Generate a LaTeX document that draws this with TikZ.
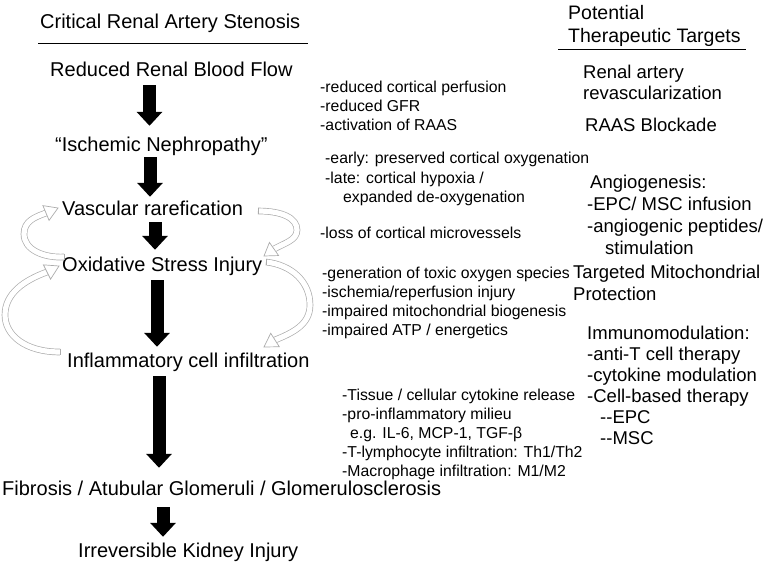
\documentclass[tikz,border=0pt]{standalone}
\usepackage{fontspec}
\setmainfont{Liberation Sans}
\usetikzlibrary{arrows.meta,calc}
\begin{document}
\begin{tikzpicture}[x=1pt,y=-1pt,
  lft/.style={anchor=base west, inner sep=0pt, text height=14.5pt, text depth=4pt, font=\fontsize{20}{24}\selectfont},
  mid/.style={anchor=north west, inner sep=0pt, align=left, font=\fontsize{15.8}{#1}\selectfont},
  mid/.default=19,
  rgt/.style={anchor=north west, inner sep=0pt, align=left, font=\fontsize{18.5}{#1}\selectfont},
  rgt/.default=21,
  blk/.style={line width=13pt, -{Triangle[width=25pt,length=14pt]}},
  band/.style={draw=gray!65, line width=0.7pt, double=white, double distance=5.2pt},
  headst/.style={draw=gray!65, line width=0.7pt, fill=white, line join=miter},
  tailcap/.style={draw=gray!65, line width=0.7pt},
  rulest/.style={line width=0.8pt}
]
\useasboundingbox (0,0) rectangle (765,564);

% headers
\node[lft] (hdrL) at (40,29) {Critical Renal Artery Stenosis};
\coordinate (hlA) at (38,43); \coordinate (hlB) at (308,43);
\draw[rulest] (hlA) -- (hlB);
\node[anchor=north west, inner sep=0pt, align=left, font=\fontsize{19.5}{23}\selectfont] (hdrR) at (568,2.9) {\strut Potential\\Therapeutic Targets};
\coordinate (hrA) at (558,49); \coordinate (hrB) at (746,49);
\draw[rulest] (hrA) -- (hrB);

% left chain
\node[lft] (n1) at (50,77) {Reduced Renal Blood Flow};
\node[lft] (n2) at (55,152) {“Ischemic Nephropathy”};
\node[lft] (n3) at (62,215) {Vascular rarefication};
\node[lft] (n4) at (62,271) {Oxidative Stress Injury};
\node[lft] (n5) at (67,367) {Inflammatory cell infiltration};
\node[lft] (n6) at (2,495) {Fibrosis / Atubular Glomeruli / Glomerulosclerosis};
\node[lft] (n7) at (78,557) {Irreversible Kidney Injury};

\coordinate (x1) at (149.5,0);
\coordinate (x2) at (150,0);
\coordinate (x3) at (155,0);
\coordinate (x4) at (157,0);
\coordinate (x5) at (159,0);
\coordinate (x6) at (163,0);
\draw[blk, shorten <=4pt, shorten >=11.5pt] (n1.south -| x1) -- (n2.north -| x1);
\draw[blk, shorten <=1pt, shorten >=3.5pt] (n2.south -| x2) -- (n3.north -| x2);
\draw[blk, shorten <=3pt, shorten >=6.5pt] (n3.south -| x3) -- (n4.north -| x3);
\draw[blk, shorten <=5pt, shorten >=5.5pt] (n4.south -| x4) -- (n5.north -| x4);
\draw[blk, shorten <=5pt, shorten >=12.5pt] (n5.south -| x5) -- (n6.north -| x5);
\draw[blk, shorten <=8pt, shorten >=5.5pt] (n6.south -| x6) -- (n7.north -| x6);

% feedback curved arrows
% upper left: Oxidative -> Vascular
\coordinate (ulT) at (64,257); \coordinate (ulB) at (46,213); \coordinate (ulP) at (58,208);
\draw[band] (ulT) .. controls (44,258) and (24,250) .. (24,234) .. controls (24,221) and (35,217) .. (ulB);
\draw[headst] ($(ulB)!8pt!90:(ulP)$) -- (ulP) -- ($(ulB)!8pt!-90:(ulP)$) -- cycle;
\draw[tailcap] ($(ulT)+(0,-3.3)$) -- ($(ulT)+(0,3.3)$);
% upper right: Vascular -> Oxidative
\coordinate (urT) at (258,211); \coordinate (urB) at (274,249); \coordinate (urP) at (264,256);
\draw[band] (urT) .. controls (282,211) and (297,218) .. (297,230) .. controls (297,240) and (285,243) .. (urB);
\draw[headst] ($(urB)!8pt!90:(urP)$) -- (urP) -- ($(urB)!8pt!-90:(urP)$) -- cycle;
\draw[tailcap] ($(urT)+(0,-3.3)$) -- ($(urT)+(0,3.3)$);
% lower left: Inflammatory -> Oxidative
\coordinate (llT) at (60,352); \coordinate (llB) at (47,272); \coordinate (llP) at (59,266);
\draw[band] (llT) .. controls (25,352) and (5,335) .. (5,315) .. controls (5,293) and (25,280) .. (llB);
\draw[headst] ($(llB)!8pt!90:(llP)$) -- (llP) -- ($(llB)!8pt!-90:(llP)$) -- cycle;
\draw[tailcap] ($(llT)+(0,-3.3)$) -- ($(llT)+(0,3.3)$);
% lower right: Oxidative -> Inflammatory
\coordinate (lrT) at (266,262); \coordinate (lrB) at (275,340); \coordinate (lrP) at (264,347);
\draw[band] (lrT) .. controls (292,265) and (310,282) .. (310,305) .. controls (310,325) and (292,333) .. (lrB);
\draw[headst] ($(lrB)!8pt!90:(lrP)$) -- (lrP) -- ($(lrB)!8pt!-90:(lrP)$) -- cycle;
\draw[tailcap] ($(lrT)+(0,-3.3)$) -- ($(lrT)+(0,3.3)$);

% middle column
\node[mid] (m1) at (320,79.2) {\strut-reduced cortical perfusion\\-reduced GFR\\-activation of RAAS};
\node[mid=19.5] (m2) at (325,149.85) {\strut-early: preserved cortical oxygenation\\-late: cortical hypoxia /\\\hspace*{18pt}expanded de-oxygenation};
\node[mid] (m3) at (320,225.2) {\strut-loss of cortical microvessels};
\node[mid] (m4) at (322,265.2) {\strut-generation of toxic oxygen species\\-ischemia/reperfusion injury\\-impaired mitochondrial biogenesis\\-impaired ATP / energetics};
\node[mid] (m5) at (342,387.2) {\strut-Tissue / cellular cytokine release\\-pro-inflammatory milieu\\\hspace*{8pt}e.g. IL-6, MCP-1, TGF-β\\-T-lymphocyte infiltration: Th1/Th2\\-Macrophage infiltration: M1/M2};

% right column
\node[rgt] (r1) at (583,63.8) {\strut Renal artery\\revascularization};
\node[rgt] (r2) at (585,116.8) {\strut RAAS Blockade};
\node[rgt=22] (r3) at (587,173.1) {\strut\hspace*{3pt}Angiogenesis:\\-EPC/ MSC infusion\\-angiogenic peptides/\\\hspace*{18pt}stimulation};
\node[rgt=22] (r4) at (573,263.1) {\strut Targeted Mitochondrial\\Protection};
\node[rgt] (r5) at (587,324.8) {\strut Immunomodulation:\\-anti-T cell therapy\\-cytokine modulation\\-Cell-based therapy\\\hspace*{13pt}-{}-EPC\\\hspace*{13pt}-{}-MSC};
\end{tikzpicture}
\end{document}
